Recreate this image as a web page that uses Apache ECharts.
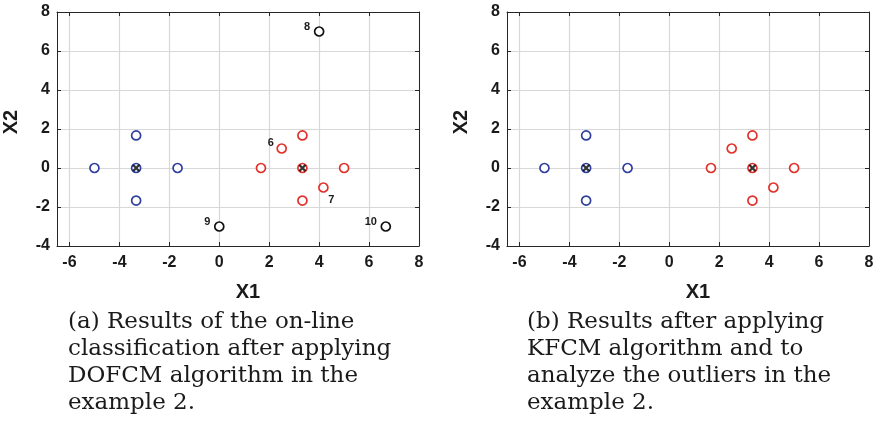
<!DOCTYPE html>
<html>
<head>
<meta charset="utf-8">
<script src="https://cdn.jsdelivr.net/npm/echarts@6/dist/echarts.min.js"></script>
<style>
  html, body { margin: 0; padding: 0; background: #fff; }
  #chart { width: 877px; height: 437px; }
</style>
</head>
<body>
<div id="chart"></div>
<script>
// Cluster 1 (blue)
const blueX = [-5, -3.33, -3.33, -1.67, -3.33];
const blueY = [0, 1.67, 0, 0, -1.67];
// Cluster 2 (red); points 6 and 7 carry their index
const redX = [1.67, 2.5, 3.33, 3.33, 5, 4.17, 3.33];
const redY = [0, 1, 1.67, 0, 0, -1, -1.67];
const redLabels = ['', '6', '', '', '', '7', ''];
// Outliers (only in the on-line result)
const outX = [4, 0, 6.67];
const outY = [7, -3, -3];
const outLabels = ['8', '9', '10'];
// Cluster centres
const centerX = [-3.33, 3.33];
const centerY = [0, 0];
// Tick values
const xTicks = [-6, -4, -2, 0, 2, 4, 6, 8];
const yTicks = [-4, -2, 0, 2, 4, 6, 8];
// Captions
const captionA = ['(a) Results of the on-line', 'classification after applying', 'DOFCM algorithm in the', 'example 2.'];
const captionB = ['(b) Results after applying', 'KFCM algorithm and to', 'analyze the outliers in the', 'example 2.'];

const BLUE = '#2f3f9e';
const RED = '#e2312a';
const BLACK = '#111';
const AXIS = '#262626';
const GRIDC = '#d8d8d8';
const TICKFONT = { fontFamily: 'Liberation Sans', fontWeight: 'bold', fontSize: 16, color: '#1a1a1a' };

const zip = (xs, ys) => xs.map((x, i) => [x, ys[i]]);
const labelOffsets = { '6': [-11, -6], '7': [8, 12], '10': [-15, -5] };

function xAxes(gi) {
  return [
    {
      gridIndex: gi, type: 'value', min: -6.5, max: 8, position: 'bottom',
      name: 'X1', nameLocation: 'middle', nameGap: 36,
      nameTextStyle: { fontFamily: 'Liberation Sans', fontWeight: 'bold', fontSize: 20, color: '#1a1a1a', padding: [0, 0, 0, 20] },
      axisLine: { onZero: false, lineStyle: { color: AXIS, width: 1 } },
      axisTick: { inside: true, length: 4, customValues: xTicks, lineStyle: { color: AXIS } },
      axisLabel: { customValues: xTicks, margin: 9, ...TICKFONT },
      splitLine: { show: true, lineStyle: { color: GRIDC, width: 1.2 } }
    },
    {
      gridIndex: gi, type: 'value', min: -6.5, max: 8, position: 'top',
      axisLine: { onZero: false, lineStyle: { color: AXIS, width: 1 } },
      axisTick: { inside: true, length: 4, customValues: xTicks, lineStyle: { color: AXIS } },
      axisLabel: { show: false },
      splitLine: { show: false }
    }
  ];
}
function yAxes(gi) {
  return [
    {
      gridIndex: gi, type: 'value', min: -4, max: 8, interval: 2, position: 'left',
      name: 'X2', nameLocation: 'middle', nameGap: 36, nameRotate: 90,
      nameTextStyle: { fontFamily: 'Liberation Sans', fontWeight: 'bold', fontSize: 20, color: '#1a1a1a', padding: [0, 0, 0, 14] },
      axisLine: { onZero: false, lineStyle: { color: AXIS, width: 1 } },
      axisTick: { inside: true, length: 4, lineStyle: { color: AXIS } },
      axisLabel: { margin: 7, ...TICKFONT },
      splitLine: { show: true, lineStyle: { color: GRIDC, width: 1.2 } }
    },
    {
      gridIndex: gi, type: 'value', min: -4, max: 8, interval: 2, position: 'right',
      axisLine: { onZero: false, lineStyle: { color: AXIS, width: 1 } },
      axisTick: { inside: true, length: 4, lineStyle: { color: AXIS } },
      axisLabel: { show: false },
      splitLine: { show: false }
    }
  ];
}

function ring(name, data, color, xi, yi, labels) {
  return {
    name, type: 'scatter', xAxisIndex: xi, yAxisIndex: yi,
    symbol: 'circle', symbolSize: 9,
    itemStyle: { color: '#fff', borderColor: color, borderWidth: 1.7, opacity: 1 },
    data: data.map((p, i) => {
      const lab = labels ? labels[i] : '';
      const item = { value: p };
      if (lab) {
        item.label = {
          show: true, position: 'inside', formatter: lab,
          offset: labelOffsets[lab] || [-12, -5],
          fontFamily: 'Liberation Sans', fontWeight: 'bold', fontSize: 11, color: '#1a1a1a'
        };
      }
      return item;
    }),
    z: 3
  };
}
function crosses(xi, yi) {
  return {
    name: 'centres', type: 'scatter', xAxisIndex: xi, yAxisIndex: yi,
    symbol: 'path://M0,0L10,10M10,0L0,10', symbolSize: 6,
    itemStyle: { color: 'none', borderColor: '#000', borderWidth: 2.4 },
    data: zip(centerX, centerY), z: 5
  };
}

function captionText(lines, left) {
  return lines.map((t, i) => ({
    type: 'text', left: left, top: 311 + i * 26.7,
    style: { text: t, font: '23px "DejaVu Serif"', fill: '#1a1a1a' }
  }));
}

const chart = echarts.init(document.getElementById('chart'), null, { renderer: 'canvas' });
chart.setOption({
  animation: false,
  backgroundColor: '#fff',
  grid: [
    { left: 56, top: 12, width: 363, height: 234 },
    { left: 507, top: 12, width: 362, height: 234 }
  ],
  xAxis: [...xAxes(0), ...xAxes(1)],
  yAxis: [...yAxes(0), ...yAxes(1)],
  series: [
    ring('cluster 1', zip(blueX, blueY), BLUE, 0, 0),
    ring('cluster 2', zip(redX, redY), RED, 0, 0, redLabels),
    ring('outliers', zip(outX, outY), BLACK, 0, 0, outLabels),
    crosses(0, 0),
    ring('cluster 1', zip(blueX, blueY), BLUE, 2, 2),
    ring('cluster 2', zip(redX, redY), RED, 2, 2),
    crosses(2, 2)
  ],
  graphic: [...captionText(captionA, 68), ...captionText(captionB, 527)]
});
</script>
</body>
</html>
